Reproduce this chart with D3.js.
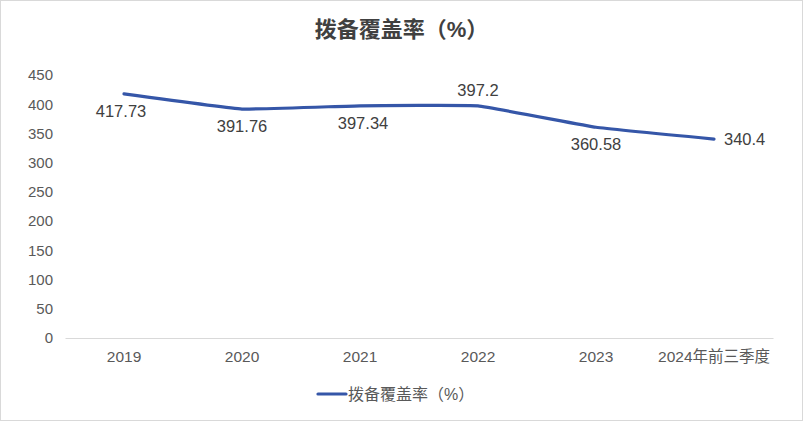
<!DOCTYPE html>
<html><head><meta charset="utf-8">
<script src="https://cdn.jsdelivr.net/npm/d3@7"></script>
<style>
html,body{margin:0;padding:0;background:#fff;}
svg{display:block;font-family:"Liberation Sans","Noto Sans CJK SC",sans-serif;}
</style></head>
<body>
<svg id="c" width="803" height="421"></svg>
<script>
const categories = ["2019","2020","2021","2022","2023","2024年前三季度"];
const values = [417.73, 391.76, 397.34, 397.2, 360.58, 340.4];
const yTicks = [0,50,100,150,200,250,300,350,400,450];
const seriesName = "拨备覆盖率（%）";
const labelPos = ["below","below","below","above","below","right"];

const W = 803, H = 421;
const svg = d3.select("#c");
svg.append("rect").attr("x",0.5).attr("y",0.5).attr("width",W-1).attr("height",H-1)
  .attr("fill","#fff").attr("stroke","#d9d9d9");

const m = {left:65, right:30, top:75, bottom:83};
const x = d3.scaleBand().domain(categories).range([m.left, W-m.right]);
const y = d3.scaleLinear().domain([0,450]).range([H-m.bottom, m.top]);

svg.append("text").attr("x",W/2).attr("y",37).attr("text-anchor","middle")
  .attr("font-size",22).attr("font-weight","bold").attr("fill","#404040").text(seriesName);

// y axis
const ya = svg.append("g").attr("transform",`translate(${m.left},0)`)
  .call(d3.axisLeft(y).tickValues(yTicks).tickSize(0).tickPadding(12));
ya.select(".domain").remove();
ya.selectAll("text").attr("font-size",15).attr("fill","#595959")
  .attr("font-family","Liberation Sans, Noto Sans CJK SC, sans-serif");

// x axis
const xa = svg.append("g").attr("transform",`translate(0,${y(0)})`)
  .call(d3.axisBottom(x).tickSize(0).tickPadding(13));
xa.select(".domain").attr("stroke","#d9d9d9");
xa.selectAll("text").attr("font-size",15.5).attr("fill","#595959")
  .attr("font-family","Liberation Sans, Noto Sans CJK SC, sans-serif");

const cx = d => x(d) + x.bandwidth()/2;
const line = d3.line().x((d,i)=>cx(categories[i])).y(d=>y(d)).curve(d3.curveCardinal.tension(0.75));
svg.append("path").datum(values).attr("d",line).attr("fill","none")
  .attr("stroke","#3556a8").attr("stroke-width",3.2).attr("stroke-linecap","round");

svg.append("g").selectAll("text").data(values).join("text")
  .attr("x",(d,i)=> labelPos[i]==="right" ? cx(categories[i])+10 : cx(categories[i]) + (i===0?-3:i===2?3:0))
  .attr("y",(d,i)=> labelPos[i]==="below" ? y(d)+23 : labelPos[i]==="above" ? y(d)-10 : y(d)+6)
  .attr("text-anchor",(d,i)=> labelPos[i]==="right" ? "start" : "middle")
  .attr("font-size",16.5).attr("fill","#404040").text(d=>d);

// legend
const lg = svg.append("g").attr("transform","translate(318,394)");
lg.append("line").attr("x1",0).attr("x2",28).attr("y1",0).attr("y2",0)
  .attr("stroke","#3556a8").attr("stroke-width",3.2).attr("stroke-linecap","round");
lg.append("text").attr("x",30).attr("y",6).attr("font-size",16).attr("fill","#595959").text(seriesName);
</script>
</body></html>
